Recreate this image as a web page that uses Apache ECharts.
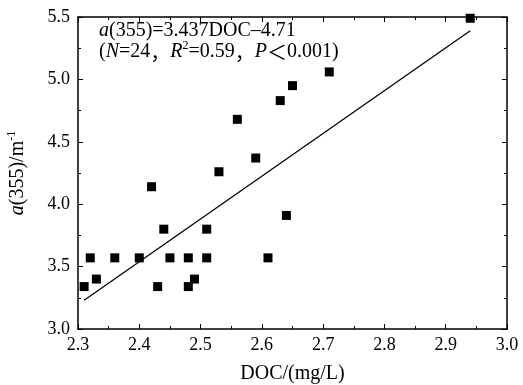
<!DOCTYPE html>
<html>
<head>
<meta charset="utf-8">
<script src="https://cdn.jsdelivr.net/npm/echarts@6/dist/echarts.min.js"></script>
<style>
html,body{margin:0;padding:0;background:#fff;}
#c{width:523px;height:385px;}
</style>
</head>
<body>
<div id="c"></div>
<script>
var docValues = [2.31, 2.32, 2.33, 2.36, 2.40, 2.42, 2.43, 2.44, 2.45, 2.48, 2.48, 2.49, 2.51, 2.51, 2.53, 2.56, 2.59, 2.61, 2.63, 2.64, 2.65, 2.71, 2.94];
var a355Values = [3.34, 3.57, 3.40, 3.57, 3.57, 4.14, 3.34, 3.80, 3.57, 3.57, 3.34, 3.40, 3.80, 3.57, 4.26, 4.68, 4.37, 3.57, 4.83, 3.91, 4.95, 5.06, 5.49];
var fitX = [2.31, 2.94];
var fitY = [3.23, 5.39];
var xTicks = ['2.3','2.4','2.5','2.6','2.7','2.8','2.9','3.0'];
var yTicks = ['3.0','3.5','4.0','4.5','5.0','5.5'];

var FONT = '"Liberation Serif","Times New Roman",serif';
var CJK = '"Noto Sans CJK SC"';
var pts = docValues.map(function(x,i){return [x, a355Values[i]];});
var fit = fitX.map(function(x,i){return [x, fitY[i]];});

var chart = echarts.init(document.getElementById('c'), null, {renderer:'canvas'});
var axisLine = {show:true, lineStyle:{color:'#000', width:1.5}};
var tick = {show:true, inside:true, length:5, lineStyle:{color:'#000', width:1}};
var minor = {show:true, splitNumber:2, length:3, lineStyle:{color:'#000', width:1}};
chart.setOption({
  animation:false,
  backgroundColor:'#fff',
  grid:{left:78, right:16, top:17, bottom:56, containLabel:false, outerBoundsMode:'none'},
  xAxis:[{
    type:'value', min:2.3, max:3.0, interval:0.1,
    axisLine:axisLine, axisTick:tick, minorTick:minor,
    splitLine:{show:false},
    axisLabel:{color:'#000', fontFamily:FONT, fontSize:18, margin:7,
      formatter:function(v){var i=Math.round((v-2.3)*10);return xTicks[i]||'';}},
    name:'DOC/(mg/L)', nameLocation:'middle', nameGap:35,
    nameTextStyle:{color:'#000', fontFamily:FONT, fontSize:20}
  },{
    type:'value', position:'top', min:2.3, max:3.0, interval:0.1,
    axisLine:axisLine, axisTick:tick, minorTick:minor,
    splitLine:{show:false}, axisLabel:{show:false}
  }],
  yAxis:[{
    type:'value', min:3.0, max:5.5, interval:0.5,
    axisLine:axisLine, axisTick:tick, minorTick:minor,
    splitLine:{show:false},
    axisLabel:{color:'#000', fontFamily:FONT, fontSize:18, margin:8,
      formatter:function(v){var i=Math.round((v-3.0)*2);return yTicks[i]||'';}},
    name:'{i|a}{n|(355)/m}{s|-1}', nameLocation:'middle', nameGap:50, nameRotate:90,
    nameTextStyle:{color:'#000', fontFamily:FONT, fontSize:20,
      rich:{
        i:{fontFamily:FONT, fontSize:20, fontStyle:'italic', color:'#000', verticalAlign:'bottom', lineHeight:22},
        n:{fontFamily:FONT, fontSize:20, color:'#000', verticalAlign:'bottom', lineHeight:22},
        s:{fontFamily:FONT, fontSize:12, color:'#000', verticalAlign:'top', lineHeight:22}
      }}
  },{
    type:'value', position:'right', min:3.0, max:5.5, interval:0.5,
    axisLine:axisLine, axisTick:tick, minorTick:minor,
    splitLine:{show:false}, axisLabel:{show:false}
  }],
  graphic:[{
    type:'text', left:99, top:21,
    style:{
      text:'{i|a}{n|(355)=3.437DOC\u20134.71}',
      rich:{
        i:{fontFamily:FONT, fontSize:20, fontStyle:'italic', fill:'#000', lineHeight:22},
        n:{fontFamily:FONT, fontSize:20, fill:'#000', lineHeight:22}
      }
    }
  },{
    type:'text', left:99, top:40,
    style:{
      text:'{n|(}{i|N}{n|=24}{c|，}{i|R}{s|2}{n|=0.59}{c|，}{i|P}{c|＜}{n|0.001)}',
      rich:{
        i:{fontFamily:FONT, fontSize:20, fontStyle:'italic', fill:'#000', lineHeight:22, verticalAlign:'bottom'},
        n:{fontFamily:FONT, fontSize:20, fill:'#000', lineHeight:22, verticalAlign:'bottom'},
        c:{fontFamily:CJK, fontSize:20, fill:'#000', lineHeight:22, verticalAlign:'bottom'},
        s:{fontFamily:FONT, fontSize:12, fill:'#000', lineHeight:22, verticalAlign:'top'}
      }
    }
  }],
  series:[{
    type:'scatter', data:pts, symbol:'rect', symbolSize:9,
    itemStyle:{color:'#000', opacity:1}, silent:true, z:3
  },{
    type:'line', data:fit, symbol:'none',
    lineStyle:{color:'#000', width:1.3}, silent:true, z:2
  }]
});
</script>
</body>
</html>
